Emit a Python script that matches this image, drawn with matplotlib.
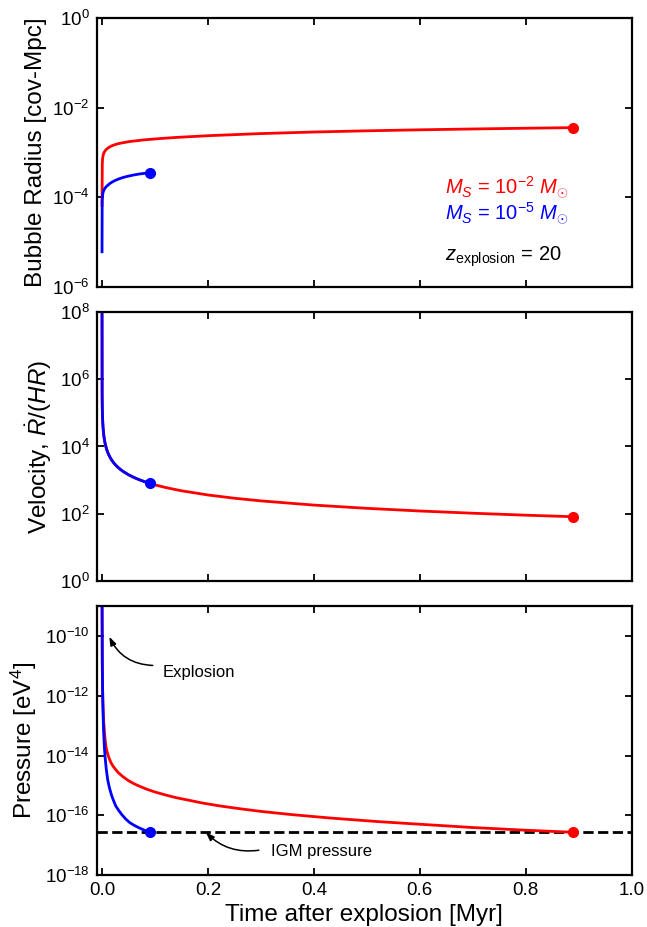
import matplotlib
matplotlib.use("Agg")
import matplotlib.pyplot as plt
import numpy as np

# ---- data ----
# bubble radius [cov-Mpc]
t_rad_red = [0.0, 0.0005, 0.001, 0.002, 0.004, 0.007, 0.0107, 0.015, 0.02, 0.027, 0.035, 0.052,
             0.08, 0.11, 0.14, 0.2, 0.3, 0.4, 0.5, 0.6, 0.7, 0.8, 0.89]
rad_red = [6.5e-5, 5.5e-4, 7.0e-4, 8.6e-4, 1.0e-3, 1.13e-3, 1.23e-3, 1.33e-3, 1.42e-3, 1.52e-3,
           1.6e-3, 1.74e-3, 1.9e-3, 2.03e-3, 2.15e-3, 2.35e-3, 2.62e-3, 2.84e-3, 3.02e-3,
           3.18e-3, 3.32e-3, 3.45e-3, 3.56e-3]
t_rad_blue = [0.0, 0.0003, 0.0008, 0.0015, 0.0025, 0.004, 0.006, 0.008, 0.0107, 0.014,
              0.018, 0.023, 0.03, 0.038, 0.045, 0.052, 0.06, 0.07, 0.08, 0.09]
rad_blue = [6e-6, 8.5e-5, 1.05e-4, 1.2e-4, 1.33e-4, 1.47e-4, 1.6e-4, 1.72e-4, 1.83e-4, 1.98e-4,
            2.13e-4, 2.3e-4, 2.5e-4, 2.7e-4, 2.85e-4, 2.98e-4, 3.12e-4, 3.27e-4, 3.39e-4, 3.5e-4]

# velocity Rdot/(HR)
t_vel_red = [5e-7, 0.0002, 0.0005, 0.001, 0.0015, 0.002, 0.003, 0.004, 0.005, 0.006, 0.008,
             0.01, 0.012, 0.015, 0.018, 0.022, 0.026, 0.03, 0.035, 0.04, 0.05, 0.06, 0.07,
             0.08, 0.09, 0.1, 0.12, 0.15, 0.2, 0.25, 0.3, 0.4, 0.5, 0.6, 0.7, 0.8, 0.89]
vel_red = [1.4e8, 3.6e5, 1.44e5, 7.2e4, 4.8e4, 3.6e4, 2.4e4, 1.8e4, 1.44e4, 1.2e4, 9.0e3,
           7.2e3, 6.0e3, 4.8e3, 4.0e3, 3.27e3, 2.77e3, 2.4e3, 2.06e3, 1.8e3, 1.44e3, 1.2e3, 1.03e3,
           900, 800, 720, 600, 480, 360, 288, 240, 180, 144, 120, 103, 90, 81]
t_vel_blue = t_vel_red[:25]
vel_blue = vel_red[:25]

# pressure [eV^4] (log10 values)
t_pres_red = [0.0, 0.0005, 0.001, 0.0015, 0.002, 0.0025, 0.003, 0.004, 0.005, 0.0065, 0.0075,
              0.009, 0.011, 0.013, 0.017, 0.021, 0.025, 0.03, 0.039, 0.05, 0.06, 0.07, 0.085,
              0.1, 0.12, 0.14, 0.165, 0.187, 0.22, 0.26, 0.3, 0.36, 0.43, 0.52, 0.6, 0.7,
              0.8, 0.89]
logp_red = [-8.5, -11.0, -11.7, -12.08, -12.37, -12.6, -12.78, -13.08, -13.3, -13.57, -13.71,
            -13.83, -13.96, -14.07, -14.24, -14.36, -14.45, -14.56, -14.7, -14.84, -14.94,
            -15.02, -15.13, -15.22, -15.32, -15.41, -15.5, -15.58, -15.68, -15.78, -15.87,
            -15.98, -16.09, -16.21, -16.3, -16.41, -16.5, -16.57]
t_pres_blue = [0.0, 0.0005, 0.0013, 0.002, 0.003, 0.0044, 0.006, 0.008, 0.0107, 0.014, 0.018,
               0.022, 0.026, 0.032, 0.038, 0.045, 0.052, 0.06, 0.07, 0.08, 0.09]
logp_blue = [-8.5, -10.8, -12.06, -12.64, -13.19, -13.71, -14.09, -14.45, -14.81, -15.08,
             -15.33, -15.52, -15.69, -15.85, -15.99, -16.13, -16.24, -16.33, -16.42, -16.5,
             -16.57]
p_igm = 10**-16.57

xticks = [0.0, 0.2, 0.4, 0.6, 0.8, 1.0]


def style_axis(ax, yticks, ylim):
    ax.set_yscale('log')
    ax.set_ylim(ylim)
    ax.set_yticks(yticks)
    ax.yaxis.set_minor_locator(matplotlib.ticker.NullLocator())
    ax.tick_params(which='both', direction='in', top=True, right=True,
                   length=5, width=1.3, labelsize=13.5, pad=5)
    for s in ax.spines.values():
        s.set_linewidth(1.6)


def main():
    plt.rcParams['font.family'] = 'Liberation Sans'
    plt.rcParams['mathtext.fontset'] = 'custom'
    plt.rcParams['mathtext.rm'] = 'Liberation Sans'
    plt.rcParams['mathtext.it'] = 'Liberation Sans:italic'
    plt.rcParams['mathtext.bf'] = 'Liberation Sans:bold'

    fig, axes = plt.subplots(3, 1, figsize=(6.47, 9.27), dpi=100, sharex=True)
    fig.subplots_adjust(left=0.1495, right=0.9763, top=0.9806, bottom=0.0561, hspace=0.095)
    ax1, ax2, ax3 = axes
    lw = 2.0
    ms = 7

    # radius
    ax1.plot(t_rad_red, rad_red, color='red', lw=lw)
    ax1.plot(t_rad_red[-1], rad_red[-1], 'o', color='red', ms=ms)
    ax1.plot(t_rad_blue, rad_blue, color='blue', lw=lw)
    ax1.plot(t_rad_blue[-1], rad_blue[-1], 'o', color='blue', ms=ms)
    style_axis(ax1, [1e-6, 1e-4, 1e-2, 1e0], (1e-6, 1e0))
    ax1.set_ylabel('Bubble Radius [cov-Mpc]', fontsize=17.5)
    ax1.text(0.651, 0.345, r'$M_S$ = 10$^{-2}$ $M_{\odot}$', color='red', fontsize=14.5,
             transform=ax1.transAxes, ha='left', va='baseline')
    ax1.text(0.651, 0.249, r'$M_S$ = 10$^{-5}$ $M_{\odot}$', color='blue', fontsize=14.5,
             transform=ax1.transAxes, ha='left', va='baseline')
    ax1.text(0.651, 0.096, r'$z_{\rm explosion}$ = 20', color='black', fontsize=14.5,
             transform=ax1.transAxes, ha='left', va='baseline')

    # velocity
    ax2.plot(t_vel_red, vel_red, color='red', lw=lw)
    ax2.plot(t_vel_red[-1], vel_red[-1], 'o', color='red', ms=ms)
    ax2.plot(t_vel_blue, vel_blue, color='blue', lw=lw)
    ax2.plot(t_vel_blue[-1], vel_blue[-1], 'o', color='blue', ms=ms)
    style_axis(ax2, [1e0, 1e2, 1e4, 1e6, 1e8], (1e0, 1e8))
    ax2.set_ylabel(r'Velocity, $\dot{R}/(HR)$', fontsize=17.5)

    # pressure
    p_red = 10**np.array(logp_red)
    p_blue = 10**np.array(logp_blue)
    ax3.axhline(p_igm, color='black', ls='--', lw=lw, zorder=1)
    ax3.plot(t_pres_red, p_red, color='red', lw=lw, zorder=2)
    ax3.plot(t_pres_red[-1], p_red[-1], 'o', color='red', ms=ms, zorder=3)
    ax3.plot(t_pres_blue, p_blue, color='blue', lw=lw, zorder=2)
    ax3.plot(t_pres_blue[-1], p_blue[-1], 'o', color='blue', ms=ms, zorder=3)
    style_axis(ax3, [1e-18, 1e-16, 1e-14, 1e-12, 1e-10], (1e-18, 1e-9))
    ax3.set_ylabel(r'Pressure [eV$^4$]', fontsize=17.5)
    ax3.set_xlabel('Time after explosion [Myr]', fontsize=17.5)

    arr = dict(arrowstyle='-|>,head_length=0.5,head_width=0.18', color='black', lw=1.1,
               connectionstyle='arc3,rad=-0.3', shrinkA=0, shrinkB=0)
    ax3.annotate('', xy=(0.0138, 10**-10.02), xytext=(0.0957, 10**-10.98), arrowprops=arr)
    ax3.text(0.114, 10**-11.22, 'Explosion', fontsize=12, ha='left', va='center')
    arr2 = dict(arr)
    arr2['connectionstyle'] = 'arc3,rad=-0.25'
    ax3.annotate('', xy=(0.196, p_igm), xytext=(0.296, 10**-17.17), arrowprops=arr2)
    ax3.text(0.319, 10**-17.21, 'IGM pressure', fontsize=12, ha='left', va='center')

    ax3.set_xlim(-0.01, 1.0)
    ax3.set_xticks(xticks)
    ax3.set_xticklabels(['%.1f' % x for x in xticks])

    fig.savefig('out.png', dpi=100)


if __name__ == "__main__":
    main()
